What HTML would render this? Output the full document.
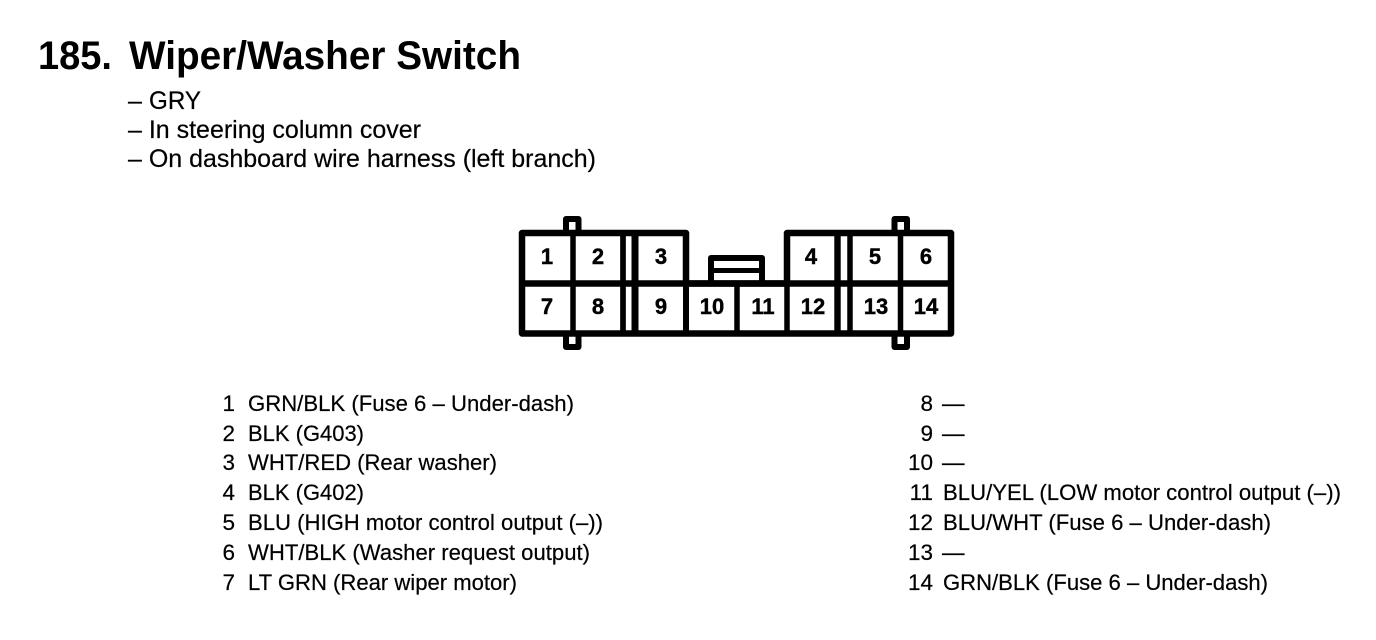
<!DOCTYPE html>
<html>
<head>
<meta charset="utf-8">
<style>
html,body{margin:0;padding:0;background:#fff;width:1376px;height:640px;overflow:hidden}
svg{display:block}
text{font-family:"Liberation Sans",Arial,sans-serif;fill:#000}
.t{font-size:39.5px;font-weight:bold}
.s{font-size:25px;stroke:#000;stroke-width:.2}
.n{font-size:22px;font-weight:bold;text-anchor:middle;stroke:#000;stroke-width:.4}
.r{font-size:22.5px;text-anchor:end;stroke:#000;stroke-width:.2}
.l{font-size:22.5px;stroke:#000;stroke-width:.2}
</style>
</head>
<body>
<svg width="1376" height="640" viewBox="0 0 1376 640" xmlns="http://www.w3.org/2000/svg">
<text class="t" x="38" y="69" textLength="74" lengthAdjust="spacingAndGlyphs">185.</text>
<text class="t" x="129" y="69" textLength="392" lengthAdjust="spacingAndGlyphs">Wiper/Washer Switch</text>
<text class="s" x="128" y="109">–</text>
<text class="s" x="149" y="109" textLength="52" lengthAdjust="spacingAndGlyphs">GRY</text>
<text class="s" x="128" y="138" textLength="293" lengthAdjust="spacingAndGlyphs">– In steering column cover</text>
<text class="s" x="128" y="167" textLength="468" lengthAdjust="spacingAndGlyphs">– On dashboard wire harness (left branch)</text>

<g fill="none" stroke="#000" stroke-width="6">
<!-- tabs -->
<path d="M566 232V219H578.500V232" stroke-linejoin="round"/>
<path d="M566 334V347H578.500V334" stroke-linejoin="round"/>
<path d="M894.500 232V219H907V232" stroke-linejoin="round"/>
<path d="M894.500 334V347H907V334" stroke-linejoin="round"/>
<!-- outline -->
<path d="M522 233H686V283.500H787V233H951V333.500H522Z" stroke-width="6.500" stroke-linejoin="round"/>
<!-- row divider -->
<path d="M522 283.500H951" stroke-width="6.500"/>
<!-- verticals -->
<path d="M573 232V334" stroke-width="5.500"/>
<path d="M623 232V334" stroke-width="5.700"/>
<path d="M635 232V334" stroke-width="7"/>
<path d="M686 232V334"/>
<path d="M737 284V334" stroke-width="5.500"/>
<path d="M787 232V334" stroke-width="5.500"/>
<path d="M837.500 232V334" stroke-width="6.400"/>
<path d="M850 232V334" stroke-width="5.500"/>
<path d="M900.500 232V334" stroke-width="5.500"/>
<!-- latch -->
<path d="M711 284V258H762V284" stroke-linejoin="round"/>
<path d="M711 270.500H762" stroke-width="5"/>
</g>

<text class="n" x="547" y="264">1</text>
<text class="n" x="598" y="264">2</text>
<text class="n" x="661" y="264">3</text>
<text class="n" x="811" y="264">4</text>
<text class="n" x="875" y="264">5</text>
<text class="n" x="926" y="264">6</text>
<text class="n" x="547" y="314">7</text>
<text class="n" x="598" y="314">8</text>
<text class="n" x="661" y="314">9</text>
<text class="n" x="712" y="314">10</text>
<text class="n" x="763" y="314">11</text>
<text class="n" x="813" y="314">12</text>
<text class="n" x="876" y="314">13</text>
<text class="n" x="926" y="314">14</text>

<text class="r" x="235" y="411">1</text>
<text class="r" x="235" y="441">2</text>
<text class="r" x="235" y="470">3</text>
<text class="r" x="235" y="500">4</text>
<text class="r" x="235" y="530">5</text>
<text class="r" x="235" y="560">6</text>
<text class="r" x="235" y="590">7</text>
<text class="l" x="248" y="411" textLength="326" lengthAdjust="spacingAndGlyphs">GRN/BLK (Fuse 6 – Under-dash)</text>
<text class="l" x="248" y="441" textLength="116" lengthAdjust="spacingAndGlyphs">BLK (G403)</text>
<text class="l" x="248" y="470" textLength="249" lengthAdjust="spacingAndGlyphs">WHT/RED (Rear washer)</text>
<text class="l" x="248" y="500" textLength="116" lengthAdjust="spacingAndGlyphs">BLK (G402)</text>
<text class="l" x="248" y="530" textLength="355" lengthAdjust="spacingAndGlyphs">BLU (HIGH motor control output (–))</text>
<text class="l" x="248" y="560" textLength="342" lengthAdjust="spacingAndGlyphs">WHT/BLK (Washer request output)</text>
<text class="l" x="248" y="590" textLength="269" lengthAdjust="spacingAndGlyphs">LT GRN (Rear wiper motor)</text>

<text class="r" x="933" y="411">8</text>
<text class="r" x="933" y="441">9</text>
<text class="r" x="933" y="470">10</text>
<text class="r" x="933" y="500">11</text>
<text class="r" x="933" y="530">12</text>
<text class="r" x="933" y="560">13</text>
<text class="r" x="933" y="590">14</text>
<text class="l" x="942" y="411">—</text>
<text class="l" x="942" y="441">—</text>
<text class="l" x="942" y="470">—</text>
<text class="l" x="943" y="500" textLength="398" lengthAdjust="spacingAndGlyphs">BLU/YEL (LOW motor control output (–))</text>
<text class="l" x="943" y="530" textLength="328" lengthAdjust="spacingAndGlyphs">BLU/WHT (Fuse 6 – Under-dash)</text>
<text class="l" x="942" y="560">—</text>
<text class="l" x="943" y="590" textLength="325" lengthAdjust="spacingAndGlyphs">GRN/BLK (Fuse 6 – Under-dash)</text>
</svg>
</body>
</html>
